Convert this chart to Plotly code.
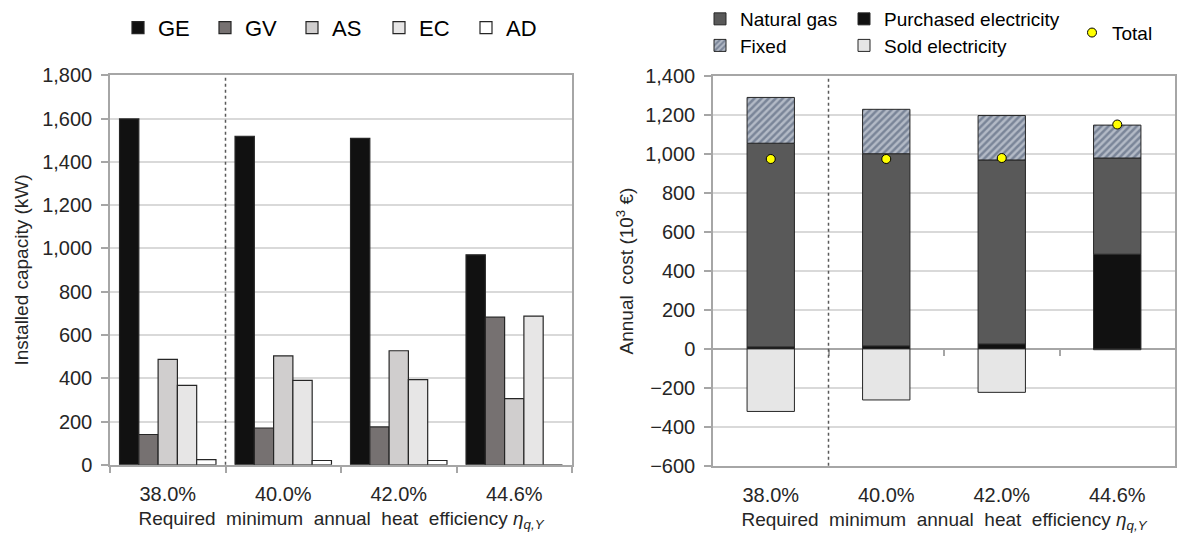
import plotly.graph_objects as go

W, H = 1177, 536

categories = ["38.0%", "40.0%", "42.0%", "44.6%"]

# Left chart: installed capacity (kW)
cap_GE = [1598, 1518, 1508, 970]
cap_GV = [140, 170, 175, 682]
cap_AS = [487, 503, 527, 306]
cap_EC = [367, 390, 394, 687]
cap_AD = [24, 20, 20, 0]

# Right chart: annual cost (10^3 EUR)
cost_purchased = [10, 15, 25, 486]
cost_gas = [1046, 987, 945, 494]
cost_fixed = [235, 228, 228, 169]
cost_sold = [-321, -262, -223, -4]
cost_total = [975, 975, 980, 1152]

FONT = "Liberation Sans, Arial, sans-serif"
AXC = "#a6a6a6"
GRID = "#d9d9d9"
OUT = "#262626"
TXT = "#262626"

fig = go.Figure()

left_series = [
    ("GE", cap_GE, "#111111"),
    ("GV", cap_GV, "#767171"),
    ("AS", cap_AS, "#d0cece"),
    ("EC", cap_EC, "#e7e6e6"),
    ("AD", cap_AD, "#ffffff"),
]
for name, vals, col in left_series:
    fig.add_trace(go.Bar(
        x=categories, y=vals, name=name, xaxis="x", yaxis="y",
        marker=dict(color=col, line=dict(color=OUT, width=1.2)),
        legend="legend",
    ))

# stacked costs (bases from the data series)
base_gas = list(cost_purchased)
base_fixed = [p + g for p, g in zip(cost_purchased, cost_gas)]

BW = 0.41
fig.add_trace(go.Bar(
    x=categories, y=cost_purchased, base=[0] * len(categories), name="Purchased electricity",
    xaxis="x2", yaxis="y2", offsetgroup="cost", width=BW,
    marker=dict(color="#111111", line=dict(color=OUT, width=1)), legend="legend3",
))
fig.add_trace(go.Bar(
    x=categories, y=cost_gas, base=base_gas, name="Natural gas",
    xaxis="x2", yaxis="y2", offsetgroup="cost", width=BW,
    marker=dict(color="#595959", line=dict(color=OUT, width=1)), legend="legend2",
))
fig.add_trace(go.Bar(
    x=categories, y=cost_fixed, base=base_fixed, name="Fixed",
    xaxis="x2", yaxis="y2", offsetgroup="cost", width=BW,
    marker=dict(color="#b3bac6", line=dict(color=OUT, width=1),
                pattern=dict(shape="/", fgcolor="#425069", bgcolor="#b3bac6", size=5, solidity=0.5)),
    legend="legend4",
))
fig.add_trace(go.Bar(
    x=categories, y=cost_sold, base=[0] * len(categories), name="Sold electricity",
    xaxis="x2", yaxis="y2", offsetgroup="cost", width=BW,
    marker=dict(color="#e6e6e6", line=dict(color=OUT, width=1)), legend="legend5",
))
fig.add_trace(go.Scatter(
    x=categories, y=cost_total, name="Total", xaxis="x2", yaxis="y2", mode="markers",
    marker=dict(color="#ffff00", size=9, line=dict(color="#000000", width=1)),
    legend="legend6",
))

# helper axis for ticks on the zero line of the right chart
fig.add_trace(go.Scatter(x=[0, 3], y=[0, 0], xaxis="x3", yaxis="y2", mode="lines",
                         line=dict(width=0), showlegend=False, hoverinfo="skip"))

xl = [110 / W, 572 / W]
xr = [713 / W, 1175 / W]
yl = [(H - 464) / H, (H - 70) / H]
yr = [(H - 465) / H, (H - 71) / H]

xtitle = "Required  minimum  annual  heat  efficiency <i>η</i><sub><i>q,Y</i></sub>"

common_x = dict(
    type="category", categoryorder="array", categoryarray=categories,
    showline=True, linecolor=AXC, linewidth=1.5, mirror=True,
    tickfont=dict(size=20, color=TXT, family=FONT), ticklabelstandoff=10,
    title=dict(text=xtitle, font=dict(size=19, color=TXT, family=FONT), standoff=8),
    automargin=False, showgrid=False, fixedrange=True,
)
common_y = dict(
    showline=True, linecolor=AXC, linewidth=1.5, mirror=True,
    ticks="outside", ticklen=7, tickcolor=AXC, tickwidth=1.5,
    showgrid=True, gridcolor=GRID, gridwidth=1.5, dtick=200, tickformat=",",
    tickfont=dict(size=20, color=TXT, family=FONT), ticklabelstandoff=5,
    automargin=False, fixedrange=True,
)


def leg(x, y, size=19):
    return dict(orientation="h", x=x / W, y=1 - y / H, xanchor="left", yanchor="middle",
                font=dict(size=size, family=FONT, color="#000000"),
                traceorder="normal", bgcolor="rgba(0,0,0,0)")


fig.update_layout(
    width=W, height=H,
    margin=dict(l=0, r=0, t=0, b=0),
    paper_bgcolor="white", plot_bgcolor="white",
    barmode="group",
    bargap=0.165, bargroupgap=0,
    font=dict(family=FONT, color=TXT),
    xaxis=dict(common_x, domain=xl, anchor="y", ticks="outside", tickson="boundaries",
               ticklen=6, tickcolor=AXC, tickwidth=1.5),
    yaxis=dict(common_y, domain=yl, anchor="x", range=[0, 1800], zeroline=False,
               title=dict(text="Installed capacity (kW)", font=dict(size=19, color=TXT, family=FONT), standoff=9)),
    xaxis2=dict(common_x, domain=xr, anchor="y2", ticks=""),
    yaxis2=dict(common_y, domain=yr, anchor="x2", range=[-600, 1400],
                zeroline=True, zerolinecolor=AXC, zerolinewidth=1.5,
                title=dict(text="Annual  cost (10<sup>3</sup> €)", font=dict(size=19, color=TXT, family=FONT), standoff=7)),
    xaxis3=dict(domain=xr, anchor="free", overlaying="x2", position=(H - 346.7) / H,
                range=[-0.5, 3.5], tickmode="array", tickvals=[0.5, 1.5, 2.5],
                ticks="outside", ticklen=6, tickcolor=AXC, tickwidth=1.5,
                showticklabels=False, showline=False, showgrid=False, zeroline=False,
                fixedrange=True),
    legend=dict(leg(118, 22, 22), entrywidth=42),
    legend2=leg(700, 13),
    legend3=leg(844, 13),
    legend4=leg(700, 40),
    legend5=leg(844, 40),
    legend6=leg(1072, 27),
    shapes=[
        dict(type="line", xref="x", yref="y domain", x0=0.5, x1=0.5, y0=0, y1=1,
             line=dict(color="#595959", width=1.5, dash="dot")),
        dict(type="line", xref="x2", yref="y2 domain", x0=0.5, x1=0.5, y0=0, y1=1,
             line=dict(color="#595959", width=1.5, dash="dot")),
    ],
)

fig.write_html("out.html")
